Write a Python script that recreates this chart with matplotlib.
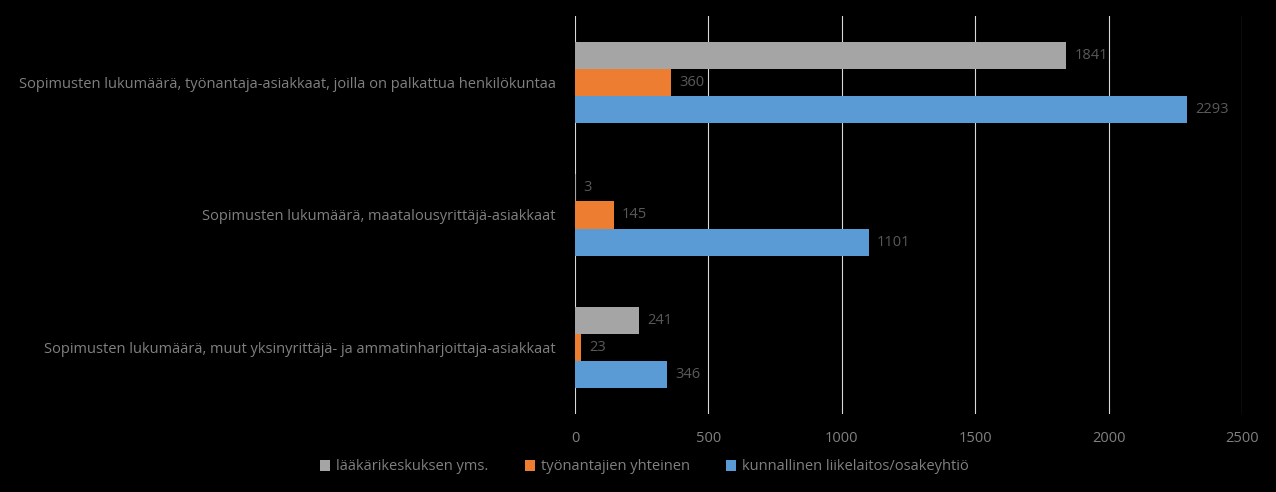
import matplotlib
matplotlib.use("Agg")
import matplotlib.pyplot as plt
import numpy as np

categories = ["Sopimusten lukumäärä, työnantaja-asiakkaat, joilla on palkattua henkilökuntaa",
              "Sopimusten lukumäärä, maatalousyrittäjä-asiakkaat",
              "Sopimusten lukumäärä, muut yksinyrittäjä- ja ammatinharjoittaja-asiakkaat"]
series_names = ["lääkärikeskuksen yms.", "työnantajien yhteinen", "kunnallinen liikelaitos/osakeyhtiö"]
laakari = [1841, 3, 241]
tyonantaja = [360, 145, 23]
kunnallinen = [2293, 1101, 346]
xticks = [0, 500, 1000, 1500, 2000, 2500]
colors = ["#A5A5A5", "#ED7D31", "#5B9BD5"]

plt.rcParams["font.family"] = "Open Sans"
fig = plt.figure(figsize=(12.76, 4.92), dpi=100, facecolor="black")
ax = fig.add_axes([575/1276, 1-414/492, 667/1276, 398/492], facecolor="black")

y = np.arange(len(categories))
h = 0.205
offs = [-h, 0, h]
for vals, c, o, name in zip([laakari, tyonantaja, kunnallinen], colors, offs, series_names):
    bars = ax.barh(y + o, vals, height=h, color=c, label=name, zorder=3)
    for b, v in zip(bars, vals):
        ax.text(v + 30, b.get_y() + b.get_height()/2, str(v), va="center", ha="left",
                color="#595959", fontsize=10.5)

ax.set_ylim(2.5, -0.5)
ax.set_xlim(0, 2500)
ax.set_xticks(xticks)
ax.set_xticklabels([str(t) for t in xticks], color="#808080", fontsize=10.5)
ax.set_yticks(y)
ax.set_yticklabels(categories, color="#808080", fontsize=10.5)
ax.tick_params(length=0, pad=14)
ax.tick_params(axis="x", pad=12)
ax.grid(axis="x", color="#D9D9D9", linewidth=0.8, zorder=0)
for s in ax.spines.values():
    s.set_visible(False)

leg = fig.legend(loc="center", bbox_to_anchor=(0.505, 1-467/492), ncol=3, frameon=False,
                 fontsize=10.5, handlelength=0.7, handleheight=0.7, columnspacing=2.5,
                 handletextpad=0.4)
for t in leg.get_texts():
    t.set_color("#808080")
fig.savefig("out.png", facecolor="black")
